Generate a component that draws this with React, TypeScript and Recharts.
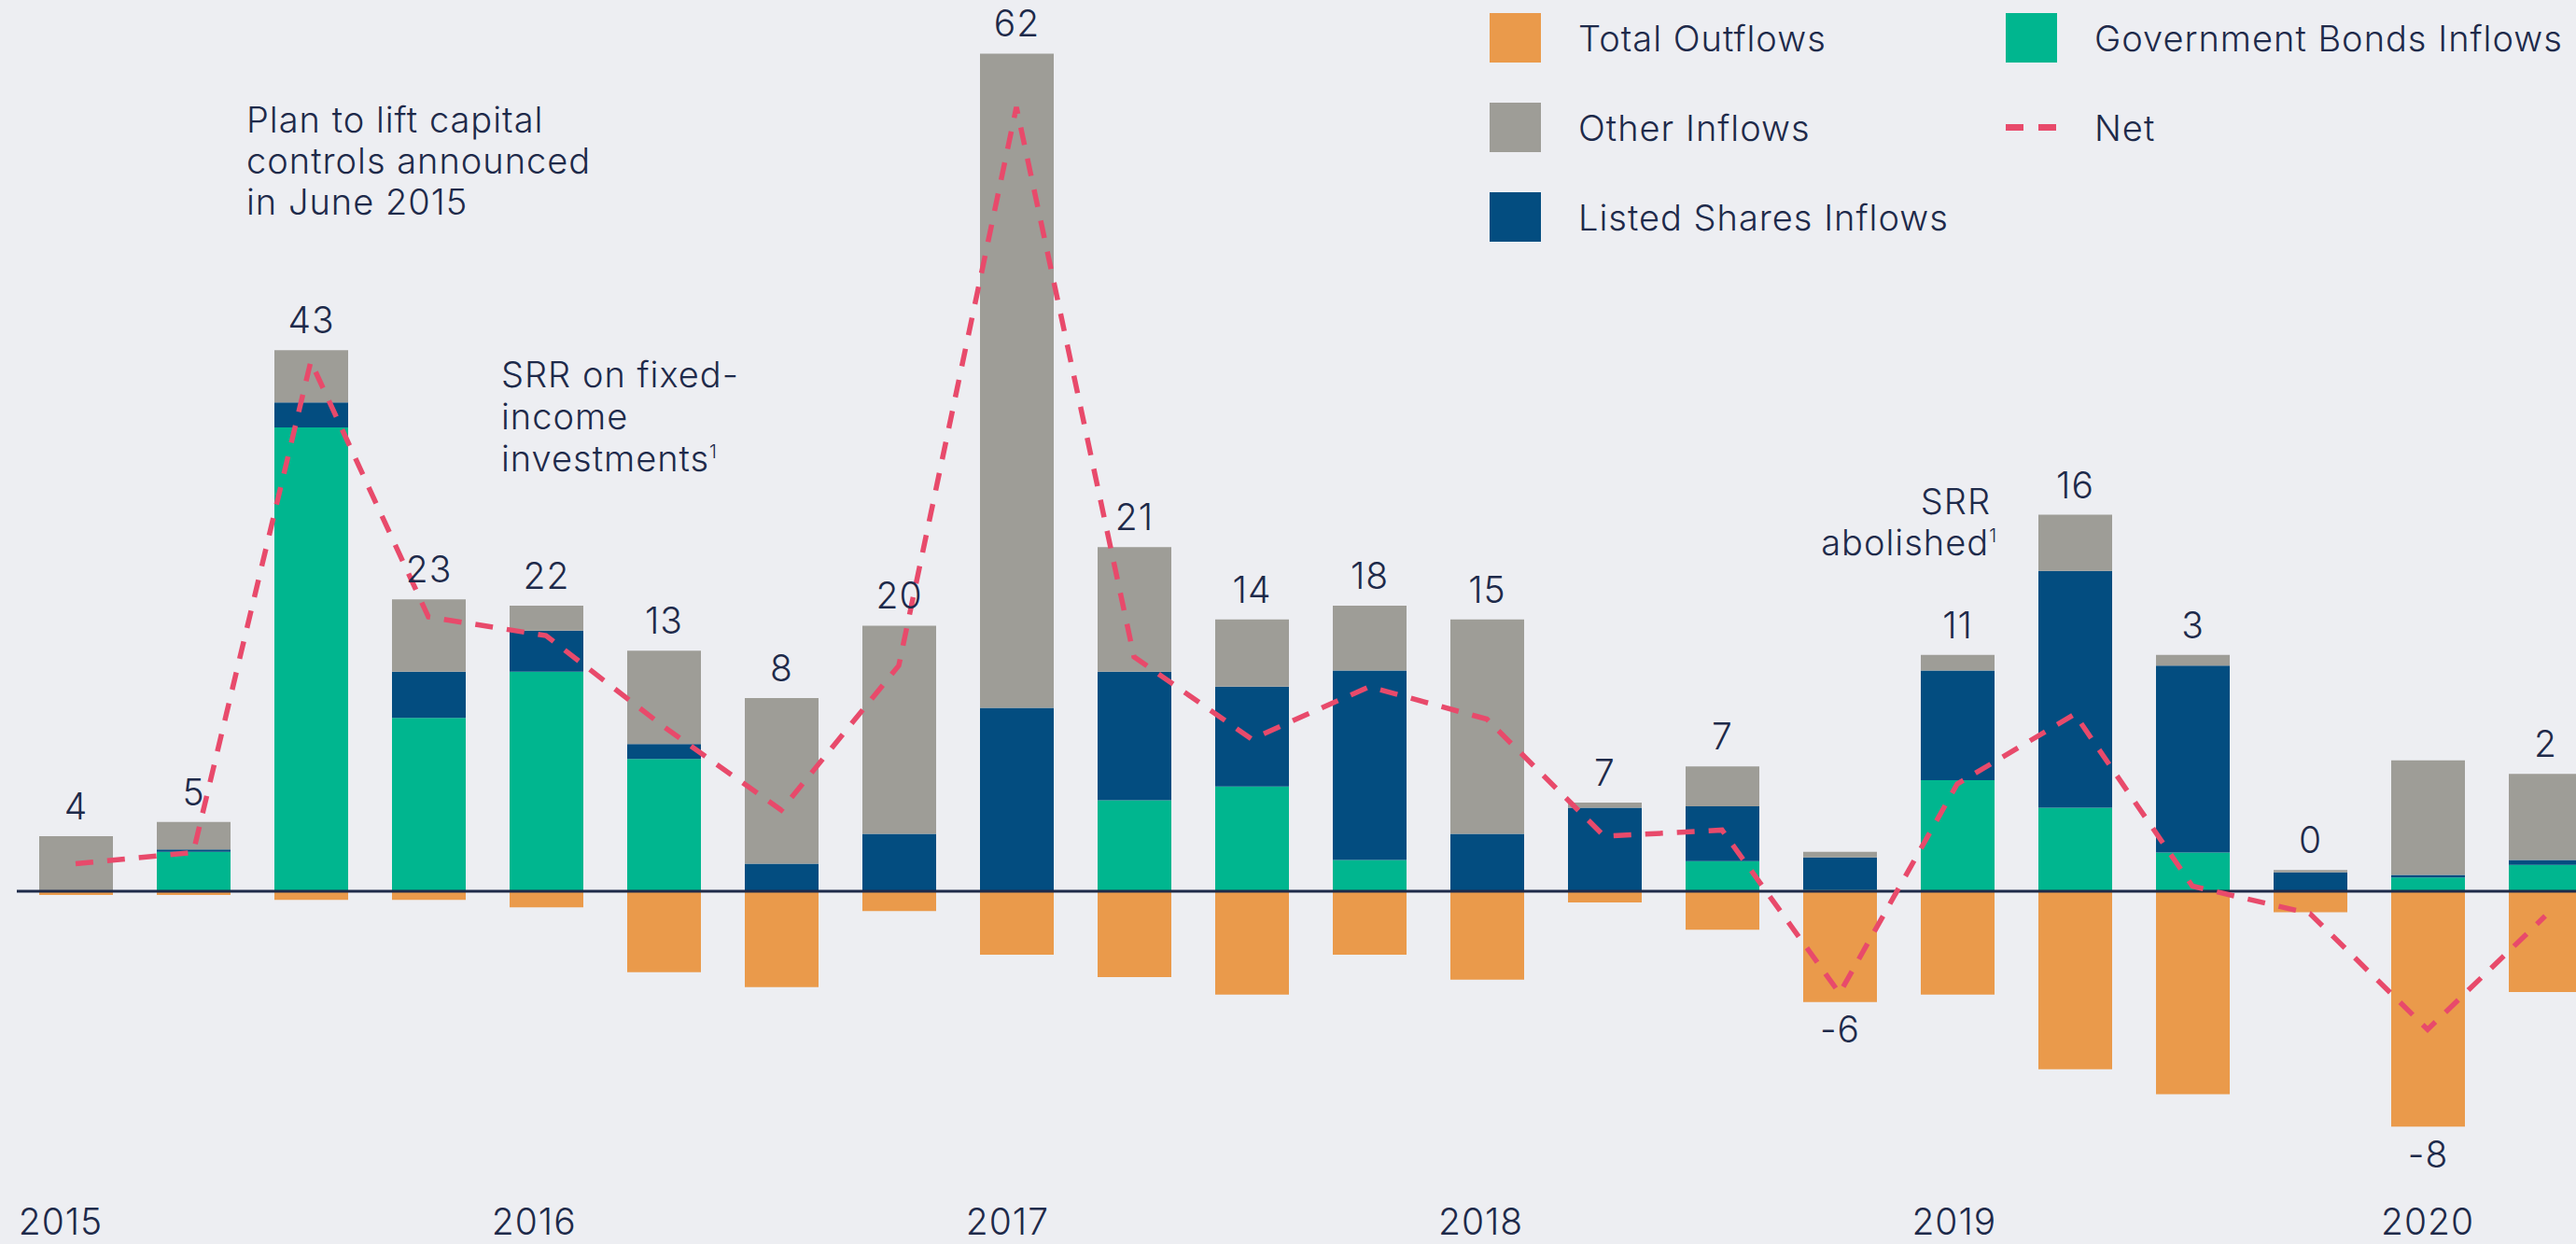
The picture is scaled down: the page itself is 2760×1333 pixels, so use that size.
import React from "react";
import { ComposedChart, Bar, Line, XAxis, YAxis, ReferenceLine, LabelList } from "recharts";

// quarterly flows (EUR bn)
const quarters = [
  "2015 Q1", "2015 Q2", "2015 Q3", "2015 Q4",
  "2016 Q1", "2016 Q2", "2016 Q3", "2016 Q4",
  "2017 Q1", "2017 Q2", "2017 Q3", "2017 Q4",
  "2018 Q1", "2018 Q2", "2018 Q3", "2018 Q4",
  "2019 Q1", "2019 Q2", "2019 Q3", "2019 Q4",
  "2020 Q1", "2020 Q2",
];
const govBonds = [0, 3.15, 37.2, 13.9, 17.6, 10.6, 0, 0, 0, 7.3, 8.4, 2.5, 0, 0, 2.4, 0.1, 8.9, 6.7, 3.1, 0, 1.1, 2.1];
const listedShares = [0, 0.2, 2.0, 3.7, 3.3, 1.2, 2.2, 4.6, 14.7, 10.3, 8.0, 15.2, 4.6, 6.7, 4.4, 2.6, 8.8, 19.0, 15.0, 1.5, 0.2, 0.4];
const otherInflows = [4.4, 2.2, 4.2, 5.8, 2.0, 7.5, 13.3, 16.7, 52.5, 10.0, 5.4, 5.2, 17.2, 0.4, 3.2, 0.45, 1.25, 4.5, 0.85, 0.2, 9.2, 6.9];
const totalOutflows = [-0.3, -0.3, -0.7, -0.7, -1.3, -6.5, -7.7, -1.6, -5.1, -6.9, -8.3, -5.1, -7.1, -0.9, -3.1, -8.9, -8.3, -14.3, -16.3, -1.7, -18.9, -8.1];
const netLine = [2.2, 3.1, 42.5, 22.0, 20.5, 13.2, 6.5, 18.1, 62.9, 18.8, 12.2, 16.4, 13.8, 4.4, 4.9, -8.2, 8.6, 14.2, 0.4, -1.8, -11.1, -2.0];
const netLabels = [4, 5, 43, 23, 22, 13, 8, 20, 62, 21, 14, 18, 15, 7, 7, -6, 11, 16, 3, 0, -8, 2];

const INK = "#1E2A4A";
const BG = "#EDEEF2";
const FONT = "Inter, 'Noto Sans', sans-serif";
const TXT = { fontFamily: FONT, fontWeight: 300, letterSpacing: 1 };
const C = {
  out: "#EA9A4B",
  other: "#9E9D97",
  shares: "#034D80",
  gov: "#00B68F",
  net: "#E84A6B",
};

const data = quarters.map((q, i) => ({
  quarter: q,
  gov: govBonds[i],
  shares: listedShares[i],
  other: otherInflows[i],
  out: totalOutflows[i],
  net: netLine[i],
  posLabel: netLabels[i] >= 0 ? String(netLabels[i]) : null,
  negLabel: netLabels[i] < 0 ? String(netLabels[i]) : null,
}));

function YearTick(props: any) {
  const { x, y, payload } = props;
  const [year, q] = String(payload.value).split(" ");
  if (q !== "Q1") return null;
  // year labels drift slightly right of the Q1 bars in the original
  const k = quarters.indexOf(payload.value) / 4;
  return (
    <text x={x} y={y} dx={-16 + 3.2 * k} dy={101} textAnchor="middle"
      fill={INK} fontSize={39} {...TXT}>
      {year}
    </text>
  );
}

function LegendItem({ color, label, dashed }: { color: string; label: string; dashed?: boolean }) {
  return (
    <div style={{ display: "flex", alignItems: "center", height: 53, marginBottom: 43 }}>
      {dashed ? (
        <svg width={55} height={53}>
          <line x1={0} x2={55} y1={26.5} y2={26.5} stroke={color} strokeWidth={7} strokeDasharray="19 16" />
        </svg>
      ) : (
        <span style={{ width: 55, height: 53, background: color, display: "inline-block" }} />
      )}
      <span style={{ marginLeft: 40, fontSize: 38, color: INK, whiteSpace: "nowrap", ...TXT }}>
        {label}
      </span>
    </div>
  );
}

function Annotations() {
  const t = { fill: INK, fontSize: 38, ...TXT };
  return (
    <svg width={2760} height={1333} style={{ position: "absolute", left: 0, top: 0, pointerEvents: "none" }}>
      <text {...t} x={264} y={142}>Plan to lift capital</text>
      <text {...t} x={264} y={186}>controls announced</text>
      <text {...t} x={264} y={230}>in June 2015</text>

      <text {...t} x={537} y={415}>SRR on fixed-</text>
      <text {...t} x={537} y={460}>income</text>
      <text {...t} x={537} y={505}>investments<tspan dy={-14} fontSize={20}>1</tspan></text>

      <text {...t} x={2133} y={551} textAnchor="end">SRR</text>
      <text {...t} x={2140} y={595} textAnchor="end">abolished<tspan dy={-14} fontSize={20}>1</tspan></text>
    </svg>
  );
}

export default function App() {
  return (
    <div style={{ position: "relative", width: 2760, height: 1333, overflow: "hidden", background: BG }}>
      <style>{"body{margin:0}"}</style>
      <ComposedChart
        width={2800}
        height={1333}
        data={data}
        stackOffset="sign"
        margin={{ top: 20, right: 10, left: 18, bottom: 0 }}
      >
        <XAxis
          dataKey="quarter"
          interval={0}
          height={111}
          axisLine={false}
          tickLine={false}
          tickSize={0}
          tickMargin={0}
          tick={<YearTick />}
        />
        <YAxis hide domain={[-20, 70]} allowDataOverflow />

        <Bar dataKey="gov" stackId="s" fill={C.gov} barSize={79} isAnimationActive={false} />
        <Bar dataKey="shares" stackId="s" fill={C.shares} barSize={79} isAnimationActive={false} />
        <Bar dataKey="other" stackId="s" fill={C.other} barSize={79} isAnimationActive={false}>
          <LabelList dataKey="posLabel" position="top" offset={18}
            fill={INK} fontSize={39} {...TXT} />
        </Bar>
        <Bar dataKey="out" stackId="s" fill={C.out} barSize={79} isAnimationActive={false}>
          <LabelList dataKey="negLabel" position="top" offset={16}
            fill={INK} fontSize={39} {...TXT} />
        </Bar>

        <ReferenceLine y={0} stroke={INK} strokeWidth={3} />

        <Line
          dataKey="net"
          type="linear"
          stroke={C.net}
          strokeWidth={5.5}
          strokeDasharray="19 15"
          dot={false}
          activeDot={false}
          isAnimationActive={false}
        />
      </ComposedChart>

      <Annotations />

      <div style={{ position: "absolute", left: 1596, top: 14, display: "flex" }}>
        <div style={{ width: 553 }}>
          <LegendItem color={C.out} label="Total Outflows" />
          <LegendItem color={C.other} label="Other Inflows" />
          <LegendItem color={C.shares} label="Listed Shares Inflows" />
        </div>
        <div>
          <LegendItem color={C.gov} label="Government Bonds Inflows" />
          <LegendItem color={C.net} label="Net" dashed />
        </div>
      </div>
    </div>
  );
}
